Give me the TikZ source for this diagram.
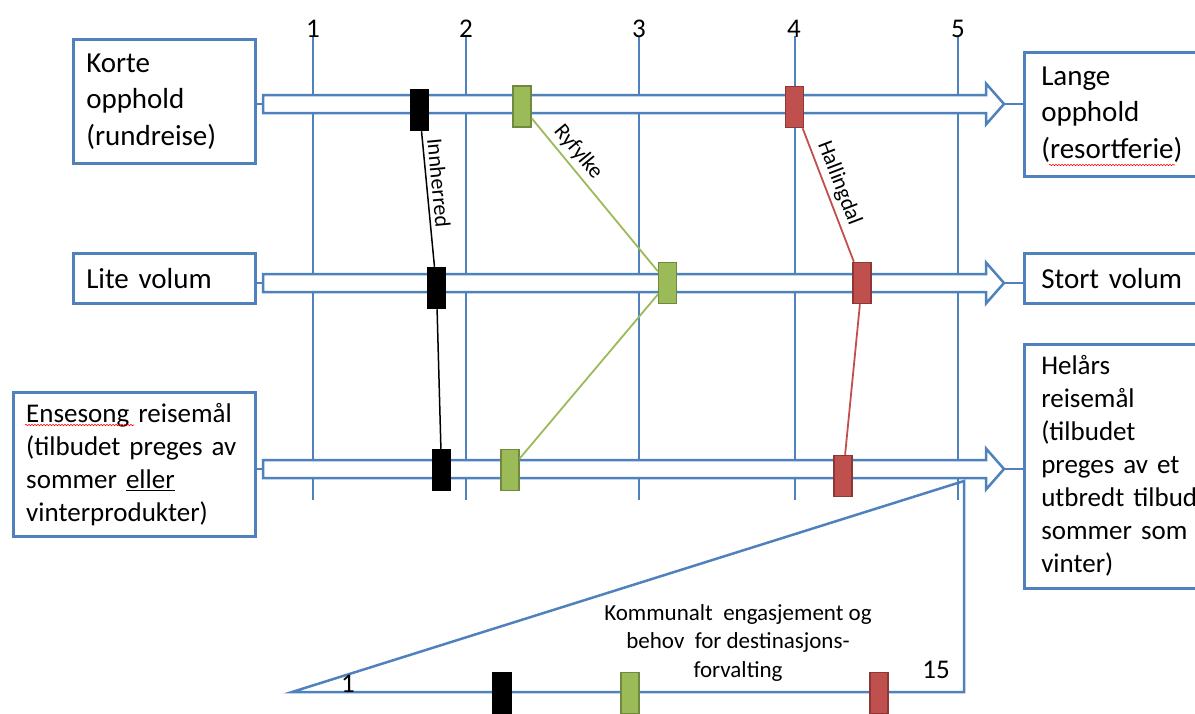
\documentclass[tikz,border=0pt]{standalone}
\usepackage{fontspec}
\setmainfont{Carlito}
\usetikzlibrary{decorations.pathmorphing}
\definecolor{obl}{HTML}{4F81BD}
\definecolor{ogr}{HTML}{9BBB59}
\definecolor{ogrd}{HTML}{71893F}
\definecolor{ord}{HTML}{C0504D}
\definecolor{ordd}{HTML}{8C3836}
\begin{document}
\begin{tikzpicture}[x=1pt,y=-1pt,
  gridln/.style={draw=obl, line width=1.4pt},
  barrow/.style={draw=obl, fill=white, line width=2.5pt, line join=miter},
  box/.style={draw=obl, line width=2.5pt, rectangle, anchor=north west, align=left, inner ysep=2pt},
  bigtxt/.style={font=\fontsize{29}{36.5}\selectfont},
  midtxt/.style={font=\fontsize{27}{33}\selectfont},
  num/.style={font=\fontsize{27}{32}\selectfont, anchor=base, inner sep=0pt},
  mk/.style={rectangle, minimum width=18pt, minimum height=41pt, inner sep=0pt, line width=1.5pt},
  mkb/.style={mk, fill=black, draw=black},
  mkg/.style={mk, fill=ogr, draw=ogrd},
  mkr/.style={mk, fill=ord, draw=ordd},
  lab/.style={font=\fontsize{22}{26}\selectfont, sloped, above, inner sep=4pt},
  stub/.style={draw=obl, line width=1.5pt},
  spell/.style={draw=red, line width=0.6pt, decorate, decoration={snake, amplitude=0.7pt, segment length=3pt}},
]
\useasboundingbox (0,0) rectangle (1195,713);

% grid lines and scale numbers
\foreach \x in {313,466,639,795,958} \draw[gridln] (\x,36) -- (\x,500);
\node[num] (n1) at (313,37) {1};
\node[num] (n2) at (466,37) {2};
\node[num] (n3) at (639,37) {3};
\node[num] (n4) at (794,37) {4};
\node[num] (n5) at (958,37) {5};

% text boxes
\node[box,bigtxt, minimum height=124pt, text width=156pt, inner xsep=13pt] (kort) at (72,38) {Korte\\opphold\\(rundreise)};
\node[box,bigtxt, minimum height=50pt, text width=156pt, inner xsep=13pt] (lite) at (72,252) {Lite volum};
\node[box,midtxt, minimum height=144pt, text width=216pt, inner xsep=13pt] (ens) at (12,391) {Ensesong reisemål\\(tilbudet preges av\\sommer \underline{eller}\\vinterprodukter)};
\node[box,bigtxt, minimum height=124pt, text width=158pt, inner xsep=17pt] (lang) at (1023,51) {Lange\\opphold\\(resortferie)};
\node[box,bigtxt, minimum height=50pt, text width=158pt, inner xsep=17pt] (stort) at (1023,252) {Stort volum};
\node[box,midtxt, minimum height=244pt, text width=158pt, inner xsep=17pt] (hel) at (1023,343) {Helårs\\reisemål\\(tilbudet\\preges av et\\utbredt tilbud\\sommer som\\vinter)};

% spell-check marks
\draw[spell] (1049,165) -- (1175,165);
\draw[spell] (25,425) -- (134,425);

% block arrows
\foreach \y/\n in {104/1,283/2,469/3} {
  \draw[barrow] (263,{\y-9}) -- (986,{\y-9}) -- (986,{\y-20.5}) -- (1004,\y) -- (986,{\y+20.5}) -- (986,{\y+9}) -- (263,{\y+9}) -- cycle;
  \coordinate (as\n) at (263,\y);
  \coordinate (ae\n) at (1004,\y);
}
\draw[stub] (kort.east |- as1) -- (as1);
\draw[stub] (lite.east |- as2) -- (as2);
\draw[stub] (ens.east |- as3) -- (as3);
\draw[stub] (ae1) -- (lang.west |- ae1);
\draw[stub] (ae2) -- (stort.west |- ae2);
\draw[stub] (ae3) -- (hel.west |- ae3);

% bottom triangle
\coordinate (t1) at (292,692);
\coordinate (t2) at (964,692);
\coordinate (t3) at (964,481);
\draw[draw=obl, line width=2.5pt, line join=miter] (t1) -- (t2) -- (t3) -- cycle;
\node[num] (nb1) at (348,692) {1};
\node[num] (n15) at (936,678) {15};
\node[font=\fontsize{23}{28.5}\selectfont, align=center, anchor=north, inner sep=0pt] (komm) at (738,604) {Kommunalt\ \ engasjement og\\behov\ \ for destinasjons-\\forvalting};

% markers
\node[mkb] (b1) at (419.5,110) {};
\node[mkg] (g1) at (522,106.5) {};
\node[mkr] (r1) at (794.5,107) {};
\node[mkb] (b2) at (436.5,288) {};
\node[mkg] (g2) at (667.5,283) {};
\node[mkr] (r2) at (862,283) {};
\node[mkb] (b3) at (441.5,470) {};
\node[mkg] (g3) at (510,470) {};
\node[mkr] (r3) at (843,476) {};
\node[mkb] (b4) at (502,693) {};
\node[mkg] (g4) at (630,693) {};
\node[mkr] (r4) at (879,693) {};

% profile lines
\draw[black, line width=1.5pt] (b1) -- node[lab, pos=0.39] {Innherred} (b2) -- (b3);
\draw[ogr, line width=1.8pt] (g1) -- node[lab, text=black, pos=0.28] {Ryfylke} (g2) -- (g3);
\draw[ord, line width=1.8pt] (r1) -- node[lab, text=black, pos=0.45] {Hallingdal} (r2) -- (r3);
\end{tikzpicture}
\end{document}
